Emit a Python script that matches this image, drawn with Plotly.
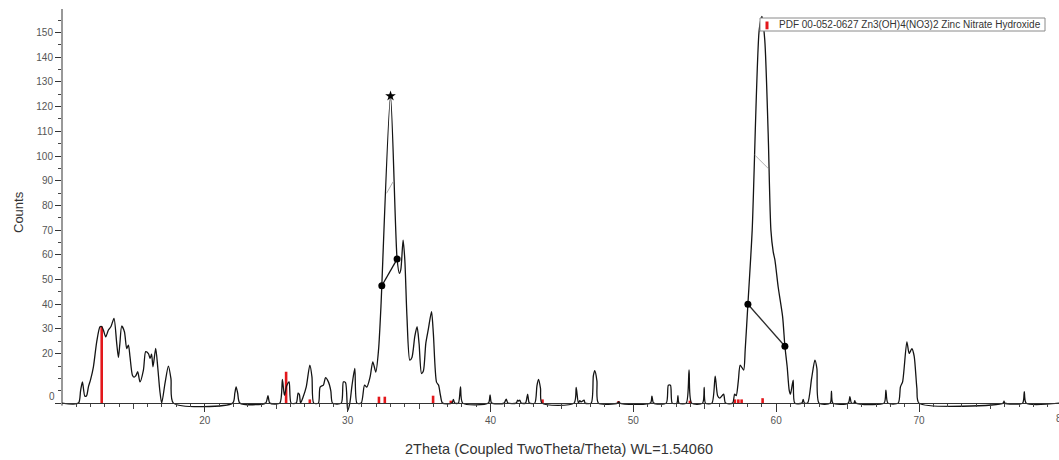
import plotly.graph_objects as go

# Measured XRD pattern: 2-theta (deg) and counts
two_theta = [
    10.0, 11.15, 11.3, 11.43, 11.6, 11.72, 11.85, 12.0, 12.2, 12.43, 12.66, 12.78, 12.9,
    13.06, 13.25, 13.43, 13.64, 13.83, 13.95, 14.05, 14.18, 14.37, 14.53, 14.65, 14.76,
    14.93, 15.05, 15.16, 15.3, 15.46, 15.7, 15.86, 16.05, 16.17, 16.27, 16.37, 16.56,
    16.7, 16.85, 16.98, 17.21, 17.45, 17.63, 17.8,
    21.95, 22.1, 22.19, 22.3, 22.45,
    24.25, 24.42, 24.55,
    25.25, 25.43, 25.57, 25.73, 25.9, 26.04,
    26.4, 26.53, 26.62, 26.7, 26.85, 27.1, 27.35, 27.5, 27.62,
    27.95, 28.07, 28.3, 28.45, 28.65, 28.82, 28.94,
    29.55, 29.7, 29.85, 30.0, 30.15, 30.3, 30.5, 30.65,
    30.95, 31.18, 31.34, 31.57, 31.76, 31.97, 32.16, 32.34, 32.39, 33.0, 33.46, 33.62,
    33.72, 33.88, 34.0, 34.15, 34.35, 34.5, 34.7, 34.86, 35.0, 35.17, 35.3, 35.47, 35.65,
    35.87, 36.0, 36.22, 36.36, 36.5, 36.64,
    37.3, 37.4, 37.5, 37.75, 37.9, 38.05,
    39.85, 39.97, 40.08,
    40.95, 41.1, 41.22, 41.8, 41.9, 41.97, 42.05, 42.15,
    42.45, 42.6, 42.72,
    43.1, 43.25, 43.36, 43.5, 43.6,
    45.85, 46.0, 46.15, 46.25, 46.35, 46.55, 46.62,
    47.05, 47.2, 47.3, 47.45, 47.55,
    48.9, 48.98, 49.05,
    51.2, 51.3, 51.42,
    52.3, 52.45, 52.6, 52.72,
    53.05, 53.12, 53.2,
    53.7, 53.9, 54.08,
    54.85, 54.96, 55.05,
    55.5, 55.73, 55.9, 56.05, 56.32, 56.45,
    56.95, 57.09, 57.2, 57.35, 57.48, 57.72, 57.83, 58.02, 58.32, 58.81, 59.0, 59.2,
    59.44, 59.63, 59.79, 59.91, 60.14, 60.45, 60.61, 60.77, 60.91, 61.0, 61.19, 61.3,
    61.8, 61.89, 61.98,
    62.2, 62.48, 62.71, 62.85, 63.0,
    63.78, 63.87, 63.97,
    65.05, 65.16, 65.27, 65.45, 65.5, 65.58,
    67.55, 67.68, 67.82,
    68.54, 68.7, 68.85, 69.15, 69.31, 69.5, 69.66, 69.85, 70.0,
    75.9, 75.95, 76.0,
    77.25, 77.37, 77.5, 79.8,
]
counts = [
    0, 0, 5, 8.6, 2.8, 3, 6.6, 9.5, 14.7, 24.8, 30.9, 31, 29.5,
    26.8, 29.6, 31, 34.3, 24.2, 18.5, 24, 31.2, 28.9, 22.1, 23.5, 18.8,
    11.3, 10.5, 11, 12.7, 8.6, 13.4, 20.8, 20, 18.1, 19.8, 14.7, 22.1,
    14.7, 5, 0, 8, 15, 9.8, 0,
    0, 4, 6.6, 4, 0,
    0, 3, 0,
    0, 9.6, 3.2, 7, 8.6, 0,
    0, 4, 3.5, 0, 2, 6.6, 15.4, 10.6, 0,
    0, 6.5, 7.3, 10.3, 8.6, 5, 0,
    0, 8.6, 8.3, -3, 0, 7, 14, 0,
    0, 7.3, 6.5, 10.6, 16.7, 12.6, 21.5, 40.4, 47.5, 124.3, 58.3, 52.5,
    54, 66, 58, 35, 17.4, 18.5, 27, 30.9, 24, 12, 13, 24.2, 30,
    37, 28, 8.5, 7.3, 3, 0,
    0, 1.5, 0, 0, 6.6, 0,
    0, 3.3, 0,
    0, 1.6, 0, 0, 1.2, 0.8, 1.2, 0,
    0, 3.6, 0,
    0, 7, 9.6, 6, 0,
    0, 6.4, 0, 1, 0.5, 1.2, 0,
    0, 11, 13.1, 9, 0,
    0, 0.6, 0,
    0, 2.8, 0,
    0, 7.2, 7.2, 0,
    0, 3, 0,
    0, 13.4, 0,
    0, 6.4, 0,
    0, 10.9, 3, 2, 3.6, 0,
    0, 3.6, 3, 9, 15.4, 13.4, 21.5, 40, 70, 151, 156.5, 147,
    109, 70, 61.3, 58, 47, 35, 23, 14.7, 5.3, 3.6, 9.3, 0,
    0, 1.5, 0,
    0, 10, 17.4, 14, 0,
    0, 4.8, 0,
    0, 2.6, 0, 0, 1, 0,
    0, 5.2, 0,
    0, 6.6, 8.6, 24.8, 20.1, 22, 19, 6, 0,
    0, 0.8, 0,
    0, 4.6, 0, 0,
]

# Reference pattern PDF 00-052-0627 (stick positions and intensities)
ref_theta = [12.78, 25.69, 27.35, 32.19, 32.6, 35.98, 37.22, 43.64, 48.96, 53.96,
             57.11, 57.35, 57.58, 59.05]
ref_counts = [31, 12.7, 1.5, 2.6, 2.6, 3, 1, 1.5, 0.8, 1, 1.5, 1.5, 1.5, 2]

# Peak-search range end points
range_a_theta = [32.39, 33.46]
range_a_counts = [47.5, 58.3]
range_b_theta = [58.02, 60.61]
range_b_counts = [40, 23]
apex_theta = [33.0]
apex_counts = [124.3]
# Half-height guide segments
half_a_theta = [32.72, 33.18]
half_a_counts = [84.9, 89.6]
half_b_theta = [58.5, 59.44]
half_b_counts = [100.4, 95]

y_major = [0, 20, 30, 40, 50, 60, 70, 80, 90, 100, 110, 120, 130, 140, 150]
y_labels = [""] + [str(v) for v in y_major[1:]]
y_minor = [5, 10, 15, 25, 35, 45, 55, 65, 75, 85, 95, 105, 115, 125, 135, 145, 155]
x_major = [20, 30, 40, 50, 60, 70]
x_mid = [15, 25, 35, 45, 55, 65, 75]
x_minor = [v for v in range(11, 80) if v % 5 != 0]

X_RANGE = [10, 79.8]
Y_RANGE = [-4, 159.5]
FONT = "Liberation Sans, Arial, sans-serif"
base_pos = (0 - Y_RANGE[0]) / (Y_RANGE[1] - Y_RANGE[0])

fig = go.Figure()

# reference sticks
sx, sy = [], []
for t, c in zip(ref_theta, ref_counts):
    sx += [t, t, None]
    sy += [0, c, None]
fig.add_trace(go.Scatter(x=sx, y=sy, mode="lines",
                         line=dict(color="#e3171b", width=2.6),
                         hoverinfo="skip", showlegend=False))

# measured pattern
fig.add_trace(go.Scatter(x=two_theta, y=counts, mode="lines",
                         line=dict(color="#141414", width=1.3, shape="spline",
                                   smoothing=0.7),
                         showlegend=False))

# half-height guides
for gx, gy in [(half_a_theta, half_a_counts), (half_b_theta, half_b_counts)]:
    fig.add_trace(go.Scatter(x=gx, y=gy, mode="lines",
                             line=dict(color="#b0b0b0", width=1),
                             showlegend=False))

# peak-search ranges
fig.add_trace(go.Scatter(x=range_a_theta, y=range_a_counts, mode="lines+markers",
                         line=dict(color="#111111", width=1.3),
                         marker=dict(color="#000000", size=7),
                         showlegend=False))
fig.add_trace(go.Scatter(x=range_b_theta, y=range_b_counts, mode="lines+markers",
                         line=dict(color="#2a2a2a", width=1.3),
                         marker=dict(color="#000000", size=7),
                         showlegend=False))
fig.add_trace(go.Scatter(x=apex_theta, y=apex_counts, mode="markers",
                         marker=dict(color="#000000", size=8, symbol="star"),
                         showlegend=False))

# secondary axis carrying the mid-length ticks at the half decades
fig.add_trace(go.Scatter(x=[X_RANGE[0]], y=[0], xaxis="x2", mode="markers",
                         marker=dict(opacity=0), hoverinfo="skip", showlegend=False))

fig.update_layout(
    width=1059, height=460,
    margin=dict(l=62, r=0, t=9, b=47),
    paper_bgcolor="white", plot_bgcolor="white",
    font=dict(family=FONT, color="#444444"),
    xaxis=dict(
        range=X_RANGE, anchor="free", position=base_pos,
        showgrid=False, zeroline=False,
        showline=True, linecolor="#333333", linewidth=1,
        tickmode="array", tickvals=x_major,
        ticks="outside", ticklen=8, tickwidth=1, tickcolor="#333333",
        tickfont=dict(size=10, color="#555555", family=FONT),
        minor=dict(tickmode="array", tickvals=x_minor, ticks="outside",
                   ticklen=3, tickwidth=1, tickcolor="#444444", showgrid=False),
    ),
    xaxis2=dict(
        range=X_RANGE, overlaying="x", anchor="free", position=base_pos,
        side="bottom", showgrid=False, zeroline=False, showline=False,
        tickmode="array", tickvals=x_mid, showticklabels=False,
        ticks="outside", ticklen=5, tickwidth=1, tickcolor="#444444",
    ),
    yaxis=dict(
        range=Y_RANGE, showgrid=False, zeroline=False,
        showline=False,
        tickmode="array", tickvals=y_major, ticktext=y_labels,
        ticks="outside", ticklen=6, tickwidth=1, tickcolor="#333333",
        tickfont=dict(size=10, color="#555555", family=FONT),
        minor=dict(tickmode="array", tickvals=y_minor, ticks="outside",
                   ticklen=3, tickwidth=1, tickcolor="#444444", showgrid=False),
    ),
    shapes=[
        # y axis line from the baseline to the top of the frame
        dict(type="line", xref="paper", yref="y", x0=0, x1=0, y0=-1, y1=Y_RANGE[1],
             line=dict(color="#333333", width=1)),
        # legend box and its red swatch
        dict(type="rect", xref="paper", yref="paper",
             x0=(760 - 62) / 997, x1=(1045 - 62) / 997,
             y0=(413 - 31) / 404, y1=(413 - 18) / 404,
             line=dict(color="#8a8a8a", width=1), fillcolor="white", layer="above"),
        dict(type="rect", xref="paper", yref="paper",
             x0=(765.5 - 62) / 997, x1=(768.5 - 62) / 997,
             y0=(413 - 29.3) / 404, y1=(413 - 21.5) / 404,
             line=dict(width=0), fillcolor="#e3171b", layer="above"),
    ],
    annotations=[
        dict(text="PDF 00-052-0627 Zn3(OH)4(NO3)2 Zinc Nitrate Hydroxide",
             xref="paper", yref="paper", x=(777 - 62) / 997, y=(413 - 24.6) / 404,
             xanchor="left", yanchor="middle", showarrow=False,
             font=dict(size=10, color="#333333", family=FONT)),
        dict(text="Counts", xref="paper", yref="paper",
             x=(18 - 62) / 997, y=(413 - 212) / 404, textangle=-90,
             xanchor="center", yanchor="middle", showarrow=False,
             font=dict(size=13, color="#333333", family=FONT)),
        dict(text="2Theta (Coupled TwoTheta/Theta) WL=1.54060",
             xref="paper", yref="paper", x=(559 - 62) / 997, y=(413 - 449) / 404,
             xanchor="center", yanchor="middle", showarrow=False,
             font=dict(size=14.5, color="#333333", family=FONT)),
        dict(text="0", xref="paper", yref="y", x=(57 - 62) / 997, y=2.5,
             xanchor="right", yanchor="middle", showarrow=False,
             font=dict(size=10, color="#555555", family=FONT)),
        dict(text="80", xref="paper", yref="paper",
             x=(80 - X_RANGE[0]) / (X_RANGE[1] - X_RANGE[0]), y=(413 - 418) / 404,
             xanchor="center", yanchor="middle", showarrow=False,
             font=dict(size=10, color="#555555", family=FONT)),
    ],
)

fig.write_html("out.html")
